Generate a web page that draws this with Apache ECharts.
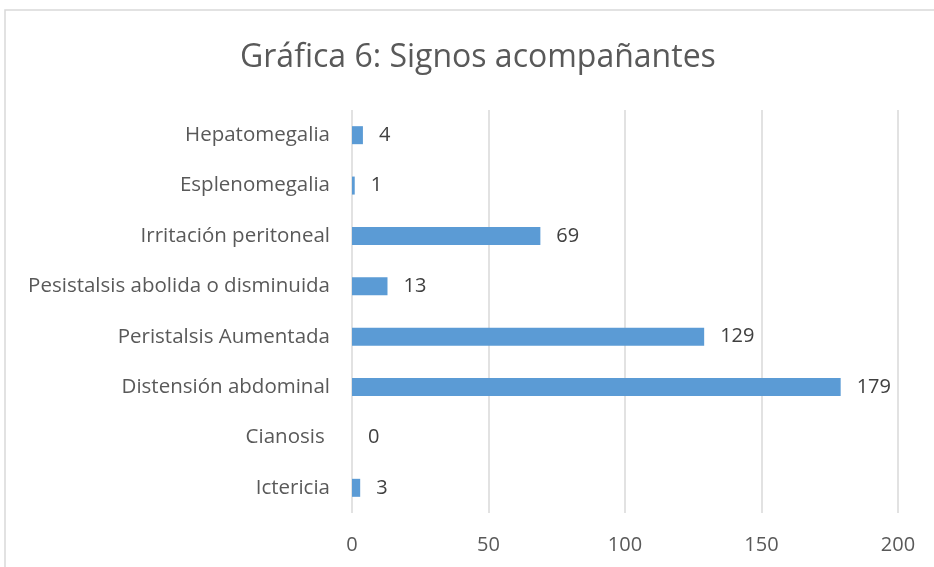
<!DOCTYPE html>
<html>
<head>
<meta charset="utf-8">
<script src="https://cdn.jsdelivr.net/npm/echarts@6/dist/echarts.min.js"></script>
<style>
	html, body { margin: 0; padding: 0; background: #fff; }
	#chart { width: 934px; height: 567px; }
</style>
</head>
<body>
<div id="chart"></div>
<script>
var categories = ['Ictericia', 'Cianosis ', 'Distensión abdominal', 'Peristalsis Aumentada',
	'Pesistalsis abolida o disminuida', 'Irritación peritoneal', 'Esplenomegalia', 'Hepatomegalia'];
var values = [3, 0, 179, 129, 13, 69, 1, 4];
var xTicks = [0, 50, 100, 150, 200];

var font = '"Open Sans", sans-serif';

echarts.init(document.getElementById('chart')).setOption({
	animation: false,
	backgroundColor: '#fff',
	title: {
		text: 'Gráfica 6: Signos acompañantes',
		left: 235,
		top: 37,
		textStyle: { fontFamily: font, fontSize: 32, fontWeight: 'normal', color: '#595959' }
	},
	graphic: [{
		type: 'rect',
		shape: { x: 5, y: 10, width: 1000, height: 700 },
		style: { fill: 'none', stroke: '#d9d9d9', lineWidth: 1.5 },
		silent: true
	}],
	grid: { left: 352, right: 36, top: 110, bottom: 54 },
	xAxis: {
		type: 'value',
		min: xTicks[0],
		max: xTicks[xTicks.length - 1],
		interval: 50,
		axisLine: { show: false },
		axisTick: { show: false },
		axisLabel: { fontFamily: font, fontSize: 20, color: '#595959', margin: 22 },
		splitLine: { lineStyle: { color: '#d9d9d9', width: 1.5 } }
	},
	yAxis: {
		type: 'category',
		data: categories,
		axisLine: { show: false },
		axisTick: { show: false },
		axisLabel: { fontFamily: font, fontSize: 20.5, color: '#595959', margin: 22 }
	},
	series: [{
		type: 'bar',
		data: values,
		barWidth: 18,
		itemStyle: { color: '#5b9bd5' },
		label: {
			show: true,
			position: 'right',
			distance: 16,
			fontFamily: font,
			fontSize: 20,
			color: '#404040'
		}
	}]
});
</script>
</body>
</html>
